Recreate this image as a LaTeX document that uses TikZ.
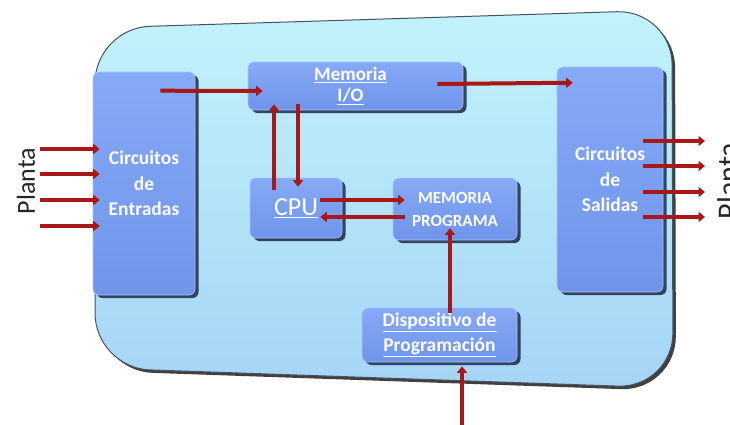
\documentclass[tikz,border=0pt]{standalone}
\usepackage{fontspec}
\setmainfont{Carlito}
\usetikzlibrary{arrows.meta,shadows,calc}
\definecolor{panelTop}{HTML}{C2F3FB}
\definecolor{panelBot}{HTML}{A6D4F6}
\definecolor{panelEdge}{HTML}{4A5262}
\definecolor{boxTop}{HTML}{86AAF6}
\definecolor{boxBot}{HTML}{7094EA}
\definecolor{boxShadow}{HTML}{1E2A44}
\definecolor{arrowRed}{HTML}{A81818}
\tikzset{
  blockbox/.style={rounded corners=6pt, top color=boxTop, bottom color=boxBot,
    draw=boxTop!70!white, line width=0.6pt,
    drop shadow={shadow xshift=3.5pt, shadow yshift=-3pt, fill=boxShadow, opacity=0.85},
    text=white, align=center, inner sep=0pt},
  redarrow/.style={draw=arrowRed, line width=4pt, -{Triangle[length=6.5pt,width=10pt]}},
  plantalabel/.style={font=\fontsize{26}{26}\selectfont, text=black!85, inner sep=0pt},
}
\begin{document}
\begin{tikzpicture}[x=1pt,y=-1pt]
\useasboundingbox (0,0) rectangle (730,424);
% background panel
\fill[black!75, rounded corners=55pt, xshift=3pt, yshift=-3pt]
  (95,28) -- (672,10) -- (673,388) -- (95,368) -- cycle;
\shade[top color=panelTop, bottom color=panelBot, draw=panelEdge, line width=1pt, rounded corners=55pt]
  (95,28) -- (672,10) -- (673,388) -- (95,368) -- cycle;

% blocks
\node[blockbox, minimum width=102pt, minimum height=223pt,
  font=\fontsize{19.5}{25.5}\selectfont\bfseries] (inp) at (144,183.5)
  {Circuitos\\de\\Entradas};
\node[blockbox, minimum width=215pt, minimum height=48pt,
  font=\fontsize{19}{21}\selectfont\bfseries] (mio) at (355.5,86)
  {\hspace*{-10pt}\underline{Memoria}\\\hspace*{-10pt}\underline{I/O}};
\node[blockbox, minimum width=106pt, minimum height=225pt,
  font=\fontsize{19.5}{25.5}\selectfont\bfseries] (out) at (610,179.5)
  {Circuitos\\de\\Salidas};
\node[blockbox, minimum width=92pt, minimum height=60pt,
  font=\fontsize{26}{26}\selectfont] (cpu) at (296,208)
  {\underline{CPU}};
\node[blockbox, minimum width=124pt, minimum height=62pt,
  font=\fontsize{17}{23}\selectfont\bfseries] (mprog) at (455,209)
  {MEMORIA\\PROGRAMA};
\node[blockbox, minimum width=155pt, minimum height=54pt,
  font=\fontsize{19.5}{25}\selectfont\bfseries] (disp) at (439.5,335)
  {\underline{Dispositivo de}\\\underline{Programación}};

% Planta labels
\node[plantalabel, rotate=90] (plantaL) at (26,181) {Planta};
\node[plantalabel, rotate=90, font=\fontsize{30}{30}\selectfont] (plantaR) at (728,181) {Planta};

% external connector ends
\coordinate (in1) at (40,149);
\coordinate (in2) at (40,174);
\coordinate (in3) at (40,200);
\coordinate (in4) at (40,226);
\coordinate (o1) at (705,141);
\coordinate (o2) at (705,166);
\coordinate (o3) at (705,192);
\coordinate (o4) at (705,217);
\coordinate (pin) at (462,426);

% inputs
\foreach \c in {in1,in2,in3,in4}
  \draw[redarrow] (\c) -- ([xshift=7pt]\c -| inp.west);
% outputs
\foreach \c in {o1,o2,o3,o4}
  \draw[redarrow] ([xshift=-20pt]\c -| out.east) -- (\c);

% internal arrows
\draw[redarrow] ([xshift=-35pt,yshift=-19pt]inp.north east) -- ([xshift=15pt,yshift=-5pt]mio.west);
\draw[redarrow] ([xshift=-26pt,yshift=2pt]mio.east) -- ([xshift=16pt,yshift=-16pt]out.north west);
\draw[redarrow] ([xshift=-22pt,yshift=-12pt]cpu.north) -- ([xshift=-81.5pt,yshift=6pt]mio.south);
\draw[redarrow] ([xshift=-57.5pt,yshift=6pt]mio.south) -- ([xshift=2pt,yshift=-9pt]cpu.north);
\draw[redarrow] ([xshift=-22pt,yshift=8pt]cpu.east) -- ([xshift=12pt,yshift=9pt]mprog.west);
\draw[redarrow] ([xshift=12pt,yshift=-8pt]mprog.west) -- ([xshift=-22pt,yshift=-9pt]cpu.east);
\draw[redarrow] ([xshift=10.5pt,yshift=-5pt]disp.north) -- ([xshift=-5pt,yshift=12pt]mprog.south);
\draw[redarrow] (pin) -- ([xshift=22.5pt,yshift=-4pt]disp.south);
\end{tikzpicture}
\end{document}
